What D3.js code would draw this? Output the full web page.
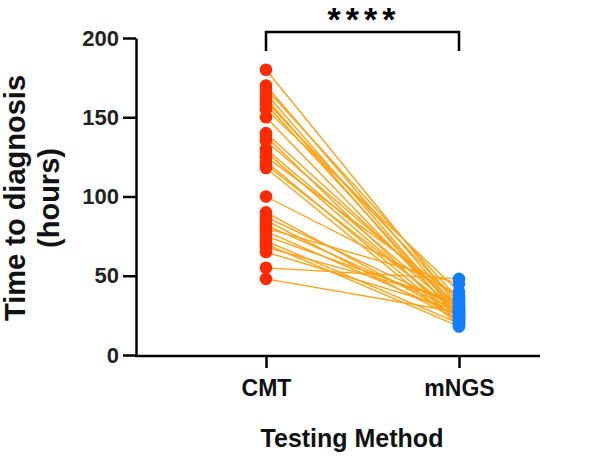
<!DOCTYPE html>
<html>
  <head>
    <title>Time to diagnosis</title>
    <script src="https://d3js.org/d3.v7.min.js"></script>
    <style>
      body { margin: 0; background: #fff; }
      text { font-family: "Liberation Sans", Arial, sans-serif; font-weight: bold; }
    </style>
  </head>
  <body>
  </body>
</html>

<script>
  // paired values, one entry per patient
  var groups = ["CMT", "mNGS"];
  var cmtHours  = [180, 170, 168, 165, 162, 160, 158, 155, 150, 140, 138, 135, 130, 128, 125, 122,
                   120, 118, 100, 90, 87, 85, 82, 80, 78, 75, 72, 70, 68, 65, 55, 48];
  var mngsHours = [30, 28, 35, 25, 22, 33, 26, 40, 24, 29, 20, 31, 27, 23, 36, 21,
                   26, 19, 38, 24, 30, 22, 28, 45, 25, 32, 20, 18, 34, 28, 48, 27];
  var yTicks = [0, 50, 100, 150, 200];

  var svg = d3.select("body").append("svg")
              .attr("width", 590)
              .attr("height", 456);

  var x = d3.scalePoint().domain(groups).range([266, 459]);
  var y = d3.scaleLinear().domain([0, 200]).range([355, 38]);

  // Add Lines
  svg.selectAll("line.pair")
     .data(cmtHours)
     .enter()
     .append("line")
     .attr("class", "pair")
     .attr("x1", x("CMT"))
     .attr("y1", function(d) { return y(d); })
     .attr("x2", x("mNGS"))
     .attr("y2", function(d, i) { return y(mngsHours[i]); })
     .attr("stroke", "#ffa114")
     .attr("stroke-width", 1.4);

  // Add Dots
  svg.selectAll("circle.cmt")
     .data(cmtHours)
     .enter()
     .append("circle")
     .attr("cx", x("CMT"))
     .attr("cy", function(d) { return y(d); })
     .attr("r", 6.3)
     .attr("fill", "#ff2a00");

  svg.selectAll("circle.mngs")
     .data(mngsHours)
     .enter()
     .append("circle")
     .attr("cx", x("mNGS"))
     .attr("cy", function(d) { return y(d); })
     .attr("r", 6.3)
     .attr("fill", "#107eff");

  // Axes
  var yAxis = svg.append("g")
     .attr("transform", "translate(136,0)")
     .call(d3.axisLeft(y).tickValues(yTicks).tickSize(13).tickSizeOuter(0).tickPadding(4));
  yAxis.selectAll("text").attr("font-size", 22).attr("fill", "#222");

  var xAxis = svg.append("g")
     .attr("transform", "translate(0,356)")
     .call(d3.axisBottom(x).tickSize(12).tickPadding(12));
  xAxis.select(".domain").remove();
  xAxis.selectAll("text").attr("font-size", 23).attr("fill", "#111");

  svg.append("line")
     .attr("x1", 135).attr("x2", 540)
     .attr("y1", 356).attr("y2", 356)
     .attr("stroke", "black");

  svg.selectAll(".tick line, .domain, line").filter(function() { return !this.classList.contains("pair"); })
     .attr("stroke", "black")
     .attr("stroke-width", 2.5);

  // Axis titles
  svg.append("text")
     .attr("transform", "translate(25,198) rotate(-90)")
     .attr("text-anchor", "middle")
     .attr("font-size", 29)
     .attr("fill", "#111")
     .text("Time to diagnosis");
  svg.append("text")
     .attr("transform", "translate(59,198) rotate(-90)")
     .attr("text-anchor", "middle")
     .attr("font-size", 29)
     .attr("fill", "#111")
     .text("(hours)");

  svg.append("text")
     .attr("x", 352).attr("y", 447)
     .attr("text-anchor", "middle")
     .attr("font-size", 25)
     .attr("fill", "#111")
     .text("Testing Method");

  // Significance bracket
  svg.append("path")
     .attr("d", "M" + x("CMT") + ",51V32H" + x("mNGS") + "V51")
     .attr("fill", "none")
     .attr("stroke", "black")
     .attr("stroke-width", 2.5);

  svg.append("text")
     .attr("x", 364).attr("y", 31)
     .attr("text-anchor", "middle")
     .attr("font-size", 34)
     .attr("letter-spacing", 5)
     .attr("fill", "black")
     .text("****");
</script>
